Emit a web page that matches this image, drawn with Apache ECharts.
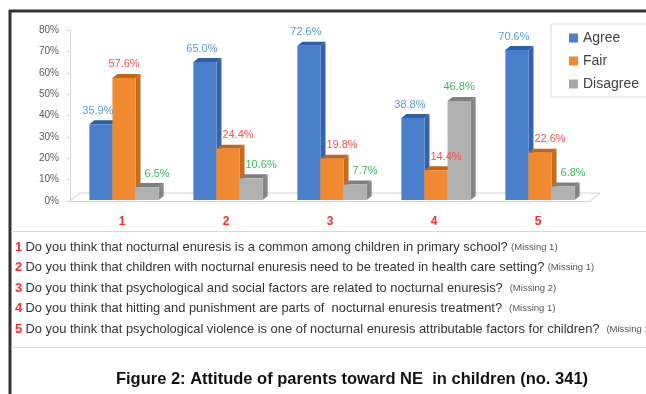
<!DOCTYPE html>
<html>
<head>
<meta charset="utf-8">
<script src="https://cdn.jsdelivr.net/npm/echarts@6/dist/echarts.min.js"></script>
<style>
html,body{margin:0;padding:0;background:#fff;}
#chart{width:646px;height:394px;}
</style>
</head>
<body>
<div id="chart"></div>
<script>
var categories = ['1', '2', '3', '4', '5'];
var agree = [35.9, 65.0, 72.6, 38.8, 70.6];
var fair = [57.6, 24.4, 19.8, 14.4, 22.6];
var disagree = [6.5, 10.6, 7.7, 46.8, 6.8];
var questions = [
  'Do you think that nocturnal enuresis is a common among children in primary school?',
  'Do you think that children with nocturnal enuresis need to be treated in health care setting?',
  'Do you think that psychological and social factors are related to nocturnal enuresis? ',
  'Do you think that hitting and punishment are parts of  nocturnal enuresis treatment? ',
  'Do you think that psychological violence is one of nocturnal enuresis attributable factors for children? '
];
var missing = ['(Missing 1)', '(Missing 1)', '(Missing 2)', '(Missing 1)', '(Missing 1)'];
var title = 'Figure 2: Attitude of parents toward NE  in children (no. 341)';

var FONT = '"Liberation Sans Narrow", "Liberation Sans", sans-serif';
var allSeries = [agree, fair, disagree];
var D = 5, DY = 4;

function barX(api, cat, idx) {
  var base = api.coord([cat, 0]);
  var band = api.size([1, 0])[0];
  var w = band * 0.222;
  return {x0: base[0] - 1.5 * w + idx * w + 2, w: w, by: base[1] - 1};
}

// 3d-ish bar: front face, top face, right side face
function bar3d(idx, front, topc, sidec) {
  return function (params, api) {
    var cat = api.value(0), val = api.value(1);
    var b = barX(api, cat, idx);
    var x0 = b.x0, w = b.w, by = b.by, ty = api.coord([cat, val])[1];
    return {
      type: 'group',
      children: [
        {type: 'polygon', shape: {points: [[x0 + w, ty], [x0 + w + D, ty - DY], [x0 + w + D, by - DY], [x0 + w, by]]}, style: {fill: sidec}},
        {type: 'polygon', shape: {points: [[x0, ty], [x0 + w, ty], [x0 + w + D, ty - DY], [x0 + D, ty - DY]]}, style: {fill: topc}},
        {type: 'rect', shape: {x: x0, y: ty, width: w, height: by - ty}, style: {fill: front}}
      ]
    };
  };
}

function barLabel(idx, labelColor) {
  return function (params, api) {
    var cat = api.value(0), val = api.value(1);
    var b = barX(api, cat, idx);
    var ty = api.coord([cat, val])[1];
    // label moves right when the bar on its left is taller
    var ldx = idx == 0 ? -3 : (allSeries[idx - 1][cat] > val ? 10 : 0);
    return {type: 'text', style: {text: val.toFixed(1) + '%', x: b.x0 + b.w / 2 + ldx, y: ty - DY - 4,
      align: 'center', verticalAlign: 'bottom', fill: labelColor, font: '11px ' + FONT}};
  };
}

function floorItem(params, api) {
  var p = api.coord([0, 0]);
  var band = api.size([1, 0])[0];
  var left = p[0] - band / 2, right = left + band * categories.length, y = p[1];
  return {
    type: 'polyline',
    shape: {points: [[left, y], [left + 10, y - 8], [right + 10, y - 8], [right, y]]},
    style: {stroke: '#d0d0d0', lineWidth: 1, fill: null}
  };
}

function mk(arr) {
  return arr.map(function (v, i) { return [i, v]; });
}

var textEls = [];
for (var i = 0; i < questions.length; i++) {
  textEls.push({
    type: 'text', x: 15, y: 247 + i * 20.5,
    style: {
      text: '{n|' + (i + 1) + '} {t|' + questions[i] + '} {m|' + missing[i] + '}',
      verticalAlign: 'middle',
      rich: {
        n: {fill: '#ff2a2a', font: 'bold 13px ' + FONT},
        t: {fill: '#333', font: '12.9px ' + FONT},
        m: {fill: '#555', font: '9.5px ' + FONT}
      }
    }
  });
}

var chart = echarts.init(document.getElementById('chart'));
var option = {
  animation: false,
  backgroundColor: '#fff',
  grid: {left: 70, right: 56, top: 30, bottom: 193},
  legend: {
    data: ['Agree', 'Fair', 'Disagree'],
    orient: 'vertical', left: 551, top: 24,
    itemWidth: 9, itemHeight: 9, itemGap: 9, icon: 'rect',
    padding: [7, 10, 6, 18],
    borderColor: '#d9d9d9', borderWidth: 1,
    textStyle: {fontSize: 14, color: '#404040', fontFamily: FONT}
  },
  xAxis: {
    type: 'category', data: categories,
    axisLine: {lineStyle: {color: '#d0d0d0'}},
    axisTick: {lineStyle: {color: '#d0d0d0'}, length: 5},
    axisLabel: {color: '#ff2a2a', fontWeight: 'bold', fontSize: 12, margin: 15, fontFamily: FONT}
  },
  yAxis: {
    type: 'value', min: 0, max: 80, interval: 10,
    axisLine: {show: true, lineStyle: {color: '#d9d9d9'}},
    axisTick: {show: true, length: 4, lineStyle: {color: '#d9d9d9'}},
    splitLine: {show: false},
    axisLabel: {formatter: '{value}%', color: '#595959', fontSize: 10, margin: 11, fontFamily: FONT}
  },
  series: [
    {type: 'custom', name: 'floor', z: 1, data: [[0, 0]], renderItem: floorItem, silent: true},
    {type: 'custom', name: 'Agree', z: 2, data: mk(agree), itemStyle: {color: '#4a7fcc'},
      renderItem: bar3d(0, '#4a7fcc', '#2e5ea6', '#3464ad')},
    {type: 'custom', name: 'Fair', z: 2, data: mk(fair), itemStyle: {color: '#f08a30'},
      renderItem: bar3d(1, '#f08a30', '#c0661a', '#c96b1c')},
    {type: 'custom', name: 'Disagree', z: 2, data: mk(disagree), itemStyle: {color: '#a8a8a8'},
      renderItem: bar3d(2, '#b0b0b0', '#7f7f7f', '#858585')},
    {type: 'custom', name: 'lblAgree', z: 3, silent: true, data: mk(agree), renderItem: barLabel(0, '#5b9bd5')},
    {type: 'custom', name: 'lblFair', z: 3, silent: true, data: mk(fair), renderItem: barLabel(1, '#ff4f4f')},
    {type: 'custom', name: 'lblDisagree', z: 3, silent: true, data: mk(disagree), renderItem: barLabel(2, '#3fb65f')}
  ],
  graphic: [
    {type: 'line', shape: {x1: 9, y1: 11, x2: 646, y2: 11}, style: {stroke: '#333', lineWidth: 3}},
    {type: 'line', shape: {x1: 10, y1: 10, x2: 10, y2: 394}, style: {stroke: '#333', lineWidth: 3}},
    {type: 'line', shape: {x1: 11, y1: 231.5, x2: 646, y2: 231.5}, style: {stroke: '#d9d9d9', lineWidth: 1}},
    {type: 'line', shape: {x1: 11, y1: 347.5, x2: 646, y2: 347.5}, style: {stroke: '#d9d9d9', lineWidth: 1}},
    {type: 'text', x: 352, y: 379, style: {text: title, fill: '#111', font: 'bold 16.5px ' + FONT,
      align: 'center', verticalAlign: 'middle'}}
  ].concat(textEls)
};
chart.setOption(option);
</script>
</body>
</html>
